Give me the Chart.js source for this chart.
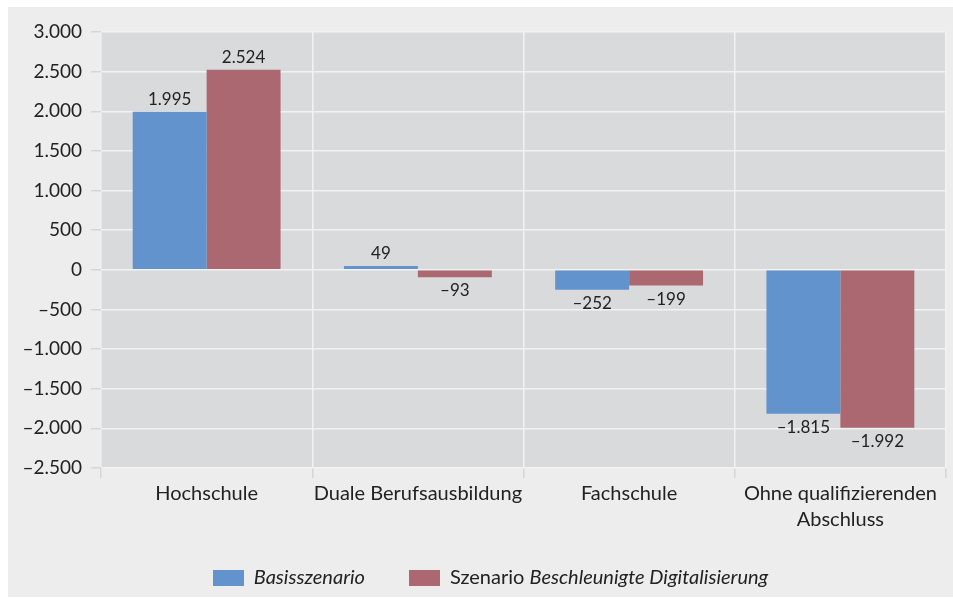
<!DOCTYPE html>
<html>
<head>
<meta charset="utf-8">
<script src="https://cdn.jsdelivr.net/npm/chart.js@4"></script>
<style>
  body { margin: 0; background: #fff; }
  #box { position: absolute; left: 8px; top: 7px; width: 945px; height: 590px; background: #ededed; }
  #box canvas { position: absolute; left: 0; top: 0; }
  #legend { position: absolute; left: 10px; width: 945px; top: 557px; text-align: center;
    font-family: Lato, sans-serif; font-size: 20px; color: #222; }
  #legend span.item { display: inline-block; margin: 0 22px; }
  #legend i.sw { display: inline-block; width: 31px; height: 16px; vertical-align: -2px; margin-right: 10px; }
</style>
</head>
<body>
<div id="box">
  <canvas id="myChart" width="945" height="590"></canvas>
  <div id="legend"></div>
</div>
<script>
// daten
const kategorien = ["Hochschule", "Duale Berufsausbildung", "Fachschule", ["Ohne qualifizierenden", "Abschluss"]]
const basis = [1995, 49, -252, -1815]
const digital = [2524, -93, -199, -1992]
const blau = "#6293cc"
const rot = "#ac6870"

function zahl(v){
  let s = String(Math.abs(v)).replace(/\B(?=(\d{3})+(?!\d))/g, ".")
  return v < 0 ? "\u2013" + s : s
}

// hintergrund vom plotbereich
const plotBg = {
  id: "plotBg",
  beforeDraw(chart){
    const a = chart.chartArea, ctx = chart.ctx
    ctx.save()
    ctx.fillStyle = "#d9dadc"
    ctx.fillRect(a.left, a.top, a.right - a.left, a.bottom - a.top)
    ctx.restore()
  }
}

// werte an die balken schreiben
const werte = {
  id: "werte",
  afterDatasetsDraw(chart){
    const ctx = chart.ctx
    ctx.save()
    ctx.font = "17px Lato, sans-serif"
    ctx.fillStyle = "#222"
    ctx.textAlign = "center"
    chart.data.datasets.forEach((ds, i) => {
      chart.getDatasetMeta(i).data.forEach((bar, j) => {
        const v = ds.data[j]
        if (v >= 0) {
          ctx.textBaseline = "bottom"
          ctx.fillText(zahl(v), bar.x, bar.y - 4)
        } else {
          ctx.textBaseline = "top"
          ctx.fillText(zahl(v), bar.x, bar.y + 5)
        }
      })
    })
    ctx.restore()
  }
}

const chart = new Chart("myChart", {
  type: "bar",
  data: {
    labels: kategorien,
    datasets: [{
      label: "Basisszenario",
      backgroundColor: blau,
      data: basis
    }, {
      label: "Szenario Beschleunigte Digitalisierung",
      backgroundColor: rot,
      data: digital
    }]
  },
  plugins: [plotBg, werte],
  options: {
    responsive: false,
    animation: false,
    categoryPercentage: 0.7,
    barPercentage: 1,
    layout: { padding: { top: 25, right: 7, left: 0, bottom: 0 } },
    plugins: {
      legend: { display: false },
      tooltip: { enabled: false }
    },
    scales: {
      x: {
        afterFit: s => { s.height = 129 },
        grid: { color: "#f2f2f2", lineWidth: 1.5, tickColor: "#d6d6d6", tickLength: 10 },
        border: { display: false },
        ticks: { autoSkip: false, color: "#222", font: { family: "Lato, sans-serif", size: 20, lineHeight: 1.3 }, padding: 3, maxRotation: 0 }
      },
      y: {
        min: -2500,
        max: 3000,
        afterFit: s => { s.width = 93 },
        grid: { color: "#f2f2f2", lineWidth: 1.5, tickColor: "#d6d6d6", tickLength: 10 },
        border: { display: false },
        ticks: { stepSize: 500, color: "#222", font: { family: "Lato, sans-serif", size: 19 }, padding: 9,
          callback: v => zahl(v) }
      }
    }
  }
})

// legende mit kursivem text
const leg = document.getElementById("legend")
leg.innerHTML =
  '<span class="item"><i class="sw" style="background:' + blau + '"></i><em>Basisszenario</em></span>' +
  '<span class="item"><i class="sw" style="background:' + rot + '"></i>Szenario <em>Beschleunigte Digitalisierung</em></span>'
</script>
</body>
</html>
